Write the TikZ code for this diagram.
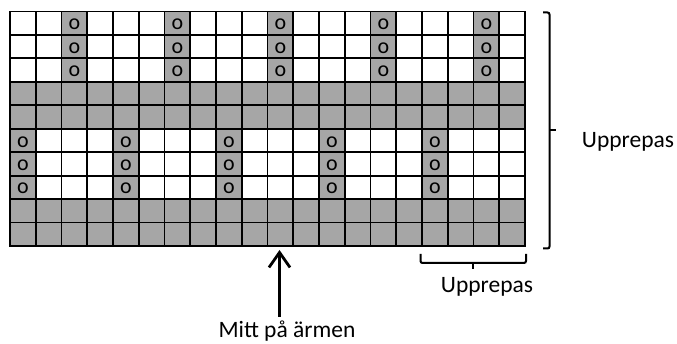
\documentclass[tikz,border=0pt]{standalone}
\usepackage{fontspec}
\setmainfont{Carlito}
\usetikzlibrary{arrows.meta}
\definecolor{cellgray}{RGB}{166,166,166}
\begin{document}
\begin{tikzpicture}[x=1pt,y=-1pt,
  gridline/.style={line width=1.8pt, black, line cap=rect},
  stitch/.style={font=\fontsize{22}{22}\selectfont, anchor=base, inner sep=0pt},
  lbl/.style={font=\fontsize{23.5}{25}\selectfont, inner sep=0pt, anchor=base},
  bracket/.style={line width=2pt, rounded corners=2pt},
  pointer/.style={line width=2.8pt, -{Straight Barb[length=15pt, width=21pt]}},
]
\useasboundingbox (0,0) rectangle (677,344);
\def\gx{10}\def\gy{11.5}\def\cw{25.75}\def\rh{23.45}
% gray rows
\foreach \r in {3,4,8,9}
  \fill[cellgray] (\gx, \gy+\r*\rh) rectangle (\gx+20*\cw, \gy+\r*\rh+\rh);
% top stitch columns
\foreach \c in {2,6,10,14,18} {
  \fill[cellgray] (\gx+\c*\cw, \gy) rectangle (\gx+\c*\cw+\cw, \gy+3*\rh);
  \foreach \r in {0,1,2}
    \node[stitch] (t\c r\r) at (\gx+\c*\cw+0.5*\cw, \gy+\r*\rh+18.3) {o};
}
% lower stitch columns
\foreach \c in {0,4,8,12,16} {
  \fill[cellgray] (\gx+\c*\cw, \gy+5*\rh) rectangle (\gx+\c*\cw+\cw, \gy+8*\rh);
  \foreach \r in {5,6,7}
    \node[stitch] (b\c r\r) at (\gx+\c*\cw+0.5*\cw, \gy+\r*\rh+18.3) {o};
}
% grid lines
\foreach \i in {0,...,20}
  \draw[gridline] (\gx+\i*\cw, \gy) -- (\gx+\i*\cw, \gy+10*\rh);
\foreach \j in {0,...,10}
  \draw[gridline] (\gx, \gy+\j*\rh) -- (\gx+20*\cw, \gy+\j*\rh);
% arrow and label
\coordinate (tip) at (279.5,250);
\node[lbl] (mid) at (287,337.5) {Mitt på ärmen};
\draw[pointer, shorten <=4pt] (mid.north -| tip) -- (tip);
% bottom bracket
\draw[bracket] (420.5,254) -- (420.5,263) -- (526,263) -- (526,254);
\draw[line width=2pt] (473,263) -- (473,269);
\node[lbl] (rep2) at (487,293) {Upprepas};
% right bracket
\draw[bracket] (543,12.5) -- (549.5,12.5) -- (549.5,248.5) -- (543,248.5);
\draw[line width=2pt] (549.5,130) -- (556,130);
\node[lbl] (rep1) at (628,148) {Upprepas};
\end{tikzpicture}
\end{document}
